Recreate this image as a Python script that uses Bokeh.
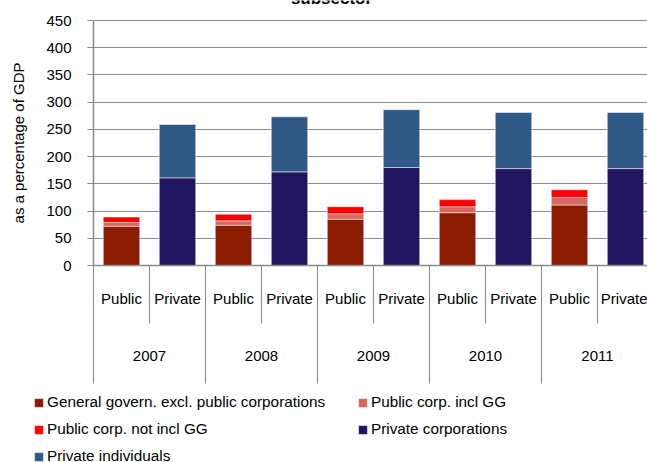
from bokeh.plotting import figure
from bokeh.models import (Range1d, FixedTicker, LinearAxis, Legend, LegendItem,
                          ColumnDataSource, Label, Grid)
from bokeh.embed import file_html
from bokeh.resources import INLINE

# ---- data ----
years = ["2007", "2008", "2009", "2010", "2011"]
sectors = ["Public", "Private"]
gen_gov = [72, 74, 85, 97, 111]
pub_corp_incl_gg = [7, 8, 10, 11, 14]
pub_corp_not_incl_gg = [10, 12, 13, 13, 14]
private_corp = [161, 172, 180, 178, 178]
private_ind = [98, 101, 106, 103, 103]
y_ticks = [0, 50, 100, 150, 200, 250, 300, 350, 400, 450]
series_names = ["General govern. excl. public corporations", "Public corp. incl GG",
                "Public corp. not incl GG", "Private corporations", "Private individuals"]
colors = ["#8C1D03", "#D9665F", "#FF0000", "#211560", "#2F5887"]

FONT = "Liberation Sans"
GRAY = "#8A8A8A"

W, H = 647, 462
AX_X, AX_Y = 93, 265          # pixel position of the plot origin
SUB_W = 56                    # pixels per Public/Private slot
PX_PER_UNIT = 245 / 450       # vertical pixels per percentage point

n = len(years)
x_pub = [2 * i + 0.5 for i in range(n)]
x_priv = [2 * i + 1.5 for i in range(n)]

p = figure(width=W, height=H,
           x_range=Range1d(-AX_X / SUB_W, (W - AX_X) / SUB_W),
           y_range=Range1d(-(H - AX_Y) / PX_PER_UNIT, AX_Y / PX_PER_UNIT),
           output_backend="svg", toolbar_location=None, x_axis_type=None, y_axis_type=None,
           min_border=0)
p.outline_line_color = None
p.background_fill_color = "white"
p.border_fill_color = "white"


def style_axis(ax):
    ax.major_label_text_font = FONT
    ax.major_label_text_font_size = "15px"
    ax.major_label_text_color = "black"
    ax.major_tick_line_color = GRAY
    ax.minor_tick_line_color = GRAY
    ax.major_tick_in = 0
    ax.minor_tick_in = 0


# y axis
yaxis = LinearAxis(ticker=FixedTicker(ticks=y_ticks), fixed_location=0, bounds=(0, 450))
style_axis(yaxis)
yaxis.axis_line_color = GRAY
yaxis.axis_line_width = 1.5
yaxis.major_tick_out = 6
yaxis.minor_tick_out = 0
yaxis.major_label_standoff = 16
yaxis.axis_label = "as a percentage of GDP"
yaxis.axis_label_standoff = 16
yaxis.axis_label_text_font = FONT
yaxis.axis_label_text_font_size = "15px"
yaxis.axis_label_text_font_style = "normal"
yaxis.axis_label_text_color = "black"
p.add_layout(yaxis, "left")

grid = Grid(dimension=1, ticker=yaxis.ticker, grid_line_color=GRAY, grid_line_width=1.2)
if "cross_bounds" in Grid.properties():
    grid.cross_bounds = (0, 2 * n)
p.add_layout(grid)

# x axis 1: Public / Private labels
sub_centers = sorted(x_pub + x_priv)
sub_labels = {}
for i in range(n):
    sub_labels[x_pub[i]] = sectors[0]
    sub_labels[x_priv[i]] = sectors[1]
xaxis1 = LinearAxis(ticker=FixedTicker(ticks=sub_centers), major_label_overrides=sub_labels,
                    fixed_location=0, bounds=(0, 2 * n))
style_axis(xaxis1)
xaxis1.axis_line_color = GRAY
xaxis1.axis_line_width = 1.5
xaxis1.major_tick_out = 0
xaxis1.minor_tick_out = 0
xaxis1.major_label_standoff = 24
p.add_layout(xaxis1, "below")

# x axis 2: years, with separators between Public and Private
year_centers = [2 * i + 1 for i in range(n)]
xaxis2 = LinearAxis(ticker=FixedTicker(ticks=year_centers, minor_ticks=year_centers),
                    major_label_overrides={year_centers[i]: years[i] for i in range(n)},
                    fixed_location=0)
style_axis(xaxis2)
xaxis2.axis_line_color = None
xaxis2.major_tick_out = 0
xaxis2.minor_tick_out = 58
xaxis2.major_label_standoff = 27
p.add_layout(xaxis2, "below")

# x axis 3: group boundaries only
group_bounds = [2 * i for i in range(n + 1)]
xaxis3 = LinearAxis(ticker=FixedTicker(ticks=[], minor_ticks=group_bounds), fixed_location=0)
style_axis(xaxis3)
xaxis3.axis_line_color = None
xaxis3.major_tick_out = 0
xaxis3.minor_tick_out = 118
p.add_layout(xaxis3, "below")

# stacked bars
renderers = []
pub_series = [gen_gov, pub_corp_incl_gg, pub_corp_not_incl_gg]
priv_series = [private_corp, private_ind]
bottom = [0] * n
for k, s in enumerate(pub_series):
    top = [bottom[i] + s[i] for i in range(n)]
    src = ColumnDataSource(dict(x=x_pub, b=bottom, t=top))
    r = p.vbar(x="x", bottom="b", top="t", width=0.65, source=src,
               fill_color=colors[k], line_color="white", line_alpha=0.45, line_width=1)
    renderers.append(r)
    bottom = top
bottom = [0] * n
for k, s in enumerate(priv_series):
    top = [bottom[i] + s[i] for i in range(n)]
    src = ColumnDataSource(dict(x=x_priv, b=bottom, t=top))
    r = p.vbar(x="x", bottom="b", top="t", width=0.65, source=src,
               fill_color=colors[3 + k], line_color="white", line_alpha=0.45, line_width=1)
    renderers.append(r)
    bottom = top

legend = Legend(items=[LegendItem(label=series_names[k], renderers=[renderers[k]]) for k in range(5)],
                location=(33, -4), orientation="horizontal", ncols=2,
                glyph_width=11, glyph_height=11, label_height=20, label_width=303,
                spacing=7, padding=0, margin=0, border_line_color=None,
                background_fill_alpha=0, label_text_font=FONT, label_text_font_size="15.3px",
                label_standoff=3, label_text_color="black")
p.add_layout(legend)

title = Label(x=(331 - AX_X) / SUB_W, y=(AX_Y + 2.5) / PX_PER_UNIT, text="subsector",
              text_align="center", text_baseline="alphabetic",
              text_font=FONT, text_font_size="17px", text_font_style="bold", text_color="black")
p.add_layout(title)

open("out.html", "w").write(file_html(p, INLINE))
